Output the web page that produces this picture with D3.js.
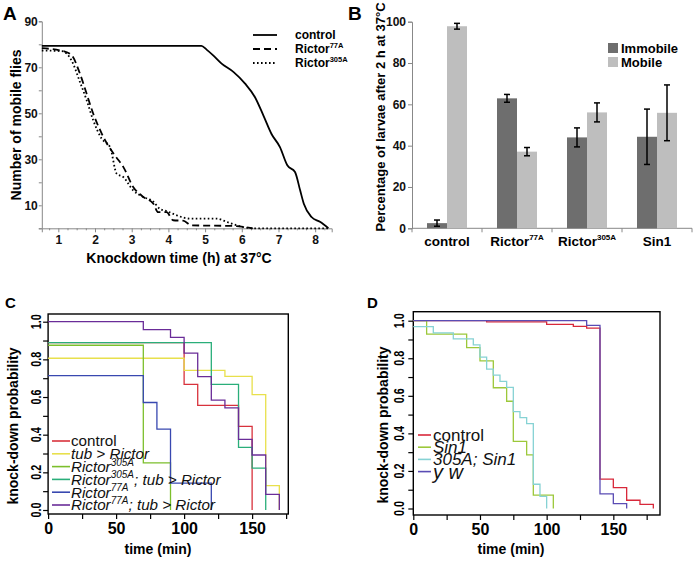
<!DOCTYPE html>
<html><head><meta charset="utf-8">
<script src="https://cdn.jsdelivr.net/npm/d3@7"></script>
<style>body{margin:0;background:#fff}svg{display:block}text{font-family:"Liberation Sans",Arial,Helvetica,sans-serif}</style>
</head><body><svg id="c" width="696" height="562"></svg>
<script>
// ---------- Panel A data ----------
const aControlH = [0.55,4.9,5.04,5.22,5.45,5.77,6.09,6.36,6.59,6.81,7.04,7.24,7.45,7.59,7.69,7.9,8.13,8.36];
const aControlN = [79.3,79.3,77.7,75.2,71.6,68,62.9,57,49,41,35.3,27.4,24.5,16.5,10.7,4.9,2.8,0];
const aR77H = [0.55,1.14,1.36,1.59,1.77,1.95,2.18,2.32,2.55,2.77,3.04,3.32,3.59,3.72,3.95,4.13,4.4,4.63,5.77,6.3];
const aR77N = [78.3,77,75.3,67.2,58.6,49.9,41.3,37,31.5,26.7,18,13.6,10.7,7,7,3.5,3.3,1.3,1,0];
const aR305H = [0.55,1.1,1.36,1.59,1.77,1.95,2.18,2.41,2.59,2.77,3.04,3.32,3.59,3.77,3.95,4.23,4.59,5.32,5.59,5.86,6.31,8.35];
const aR305N = [77.3,77,73,63.6,55.8,47,39,35.3,23.8,22.3,16.5,13.6,11.6,8.4,7.5,5.6,4.2,4.2,2.8,1.3,0,0];
const aXTicks = [1,2,3,4,5,6,7,8];
const aYTicks = [10,30,50,70,90];
const aLegend = [["control",""],["Rictor","77A"],["Rictor","305A"]];

// ---------- Panel B data ----------
const bCatBase = ["control","Rictor","Rictor","Sin1"];
const bCatSup = ["","77A","305A",""];
const bImmobile = [2.5,62.9,44,44.3];
const bImmobileErr = [1.5,1.9,4.6,13.4];
const bMobile = [97.8,37.1,56.1,55.9];
const bMobileErr = [1.4,2,4.6,13.5];
const bYTicks = [0,20,40,60,80,100];
const bLegend = ["Immobile","Mobile"];

// ---------- Panel C data (Kaplan-Meier steps) ----------
const cTimes = [
  [0,100,110,140,150],
  [0,100,130,150,160,170],
  [0,70,90],
  [0,120,140,150,160],
  [0,70,80,90,120],
  [0,70,90,100,110,120,130,140,150,160,170]
];
const cSurv = [
  [0.889,0.667,0.556,0.444,0],
  [0.806,0.742,0.71,0.613,0.129,0],
  [0.875,0.25,0],
  [0.889,0.667,0.333,0.222,0],
  [0.714,0.571,0.429,0.143,0],
  [1,0.958,0.917,0.833,0.708,0.583,0.542,0.375,0.292,0.083,0]
];
const cLegMain = ["control","tub > Rictor","Rictor","Rictor","Rictor","Rictor"];
const cLegSup = ["","","305A","305A","77A","77A"];
const cLegTail = ["","","","; tub > Rictor","","; tub > Rictor"];
const cColors = ["#d8323c","#e8e04c","#7cbf2c","#2aae7a","#3848b0","#6a2c98"];

// ---------- Panel D data ----------
const dTimes = [
  [0,55,100,120,130,140,150,160,170,180],
  [0,10,40,50,60,70,75,85,90,105],
  [0,15,30,45,50,55,60,65,70,75,80,85,90,95,100],
  [0,130,140,150,160]
];
const dSurv = [
  [1,0.994,0.98,0.97,0.96,0.156,0.111,0.044,0.022,0],
  [1,0.929,0.857,0.786,0.643,0.571,0.357,0.286,0.071,0],
  [0.968,0.935,0.903,0.871,0.806,0.742,0.71,0.677,0.645,0.516,0.484,0.452,0.129,0.065,0],
  [1,0.975,0.078,0.026,0]
];
const dLegend = ["control","Sin1","305A; Sin1","y w"];
const dColors = ["#d8283a","#9cc83a","#86d2d4","#5a4cb4"];
const kmXTicks = [0,50,100,150];
const kmXMinor = [25,75,125,175];
const kmYTicks = [0,0.2,0.4,0.6,0.8,1.0];
const kmYMinor = [0.1,0.3,0.5,0.7,0.9];

const svg = d3.select("#c");
const F = '"Liberation Sans",Arial,Helvetica,sans-serif';
function clean(g){ g.attr("font-family",F).attr("font-size",null); }
function richText(g, x, y, fs, main, sup, tail, supFs, anchor){
  const t = g.append("text").attr("x",x).attr("y",y+fs*0.35).attr("font-size",fs);
  if(anchor) t.attr("text-anchor",anchor);
  t.append("tspan").text(main);
  if(sup){
    const rise = fs*0.42;
    t.append("tspan").attr("font-size",supFs).attr("dy",-rise).text(sup);
    if(tail) t.append("tspan").attr("dy",rise).text(tail);
  }
  return t;
}

// ================= Panel A =================
const xA = d3.scaleLinear().domain([0.55,8.45]).range([41.8,331.7]);
const yA = d3.scaleLinear().domain([0,90]).range([228.3,21.3]);
const gA = svg.append("g");
gA.append("text").attr("x",3).attr("y",20).attr("font-size",19).attr("font-weight","bold").text("A");
const ayx = gA.append("g").attr("transform",`translate(${xA(0.55)},0)`)
  .call(d3.axisLeft(yA).tickValues(d3.range(0,91,10)).tickSize(3).tickFormat(d=>aYTicks.includes(d)?d:""));
ayx.select(".domain").attr("stroke","#888");
ayx.selectAll(".tick line").attr("stroke","#888");
ayx.selectAll(".tick text").attr("font-size",12).attr("font-weight","bold").attr("x",-4).attr("fill","#111");
clean(ayx);
const axx = gA.append("g").attr("transform",`translate(0,${yA(0)})`)
  .call(d3.axisBottom(xA).tickValues(aXTicks).tickSize(4));
axx.select(".domain").attr("stroke","#888");
axx.selectAll(".tick line").attr("stroke","#888");
axx.selectAll(".tick text").attr("font-size",12).attr("font-weight","bold").attr("y",7).attr("fill","#111");
clean(axx);
const axm = gA.append("g").attr("transform",`translate(0,${yA(0)})`)
  .call(d3.axisBottom(xA).tickValues(d3.range(0.75,8.45,0.25).filter(v=>Math.abs(v-Math.round(v))>0.01)).tickSize(2).tickFormat(""));
axm.select(".domain").remove();
axm.selectAll(".tick line").attr("stroke","#888");
gA.append("text").attr("transform","translate(16,125) rotate(-90)").attr("text-anchor","middle")
  .attr("dominant-baseline","central").attr("font-size",14).attr("font-weight","bold").text("Number of mobile flies");
gA.append("text").attr("x",179).attr("y",258).attr("text-anchor","middle").attr("dominant-baseline","central")
  .attr("font-size",14).attr("font-weight","bold").text("Knockdown time (h) at 37°C");
const lineA = d3.line().x(d=>xA(d[0])).y(d=>yA(d[1])).curve(d3.curveMonotoneX);
const aSeries = [
  {h:aControlH,n:aControlN,dash:null},
  {h:aR77H,n:aR77N,dash:"7,4"},
  {h:aR305H,n:aR305N,dash:"1.6,2.4"}
];
aSeries.forEach(s=>{
  gA.append("path").attr("d",lineA(s.h.map((h,i)=>[h,s.n[i]]))).attr("fill","none")
    .attr("stroke","#000").attr("stroke-width",1.8).attr("stroke-dasharray",s.dash);
});
aLegend.forEach((L,i)=>{
  const y = 35 + i*14;
  gA.append("line").attr("x1",253).attr("x2",277).attr("y1",y).attr("y2",y).attr("stroke","#000")
    .attr("stroke-width",1.8).attr("stroke-dasharray",aSeries[i].dash);
  richText(gA,295,y,12,L[0],L[1],"",7.5).attr("font-weight","bold");
});

// ================= Panel B =================
const xB = d3.scaleBand().domain(d3.range(bCatBase.length)).range([412,692]);
const yB = d3.scaleLinear().domain([0,100]).range([228.3,21.7]);
const gB = svg.append("g");
gB.append("text").attr("x",348).attr("y",20).attr("font-size",19).attr("font-weight","bold").text("B");
const byx = gB.append("g").attr("transform","translate(412,0)")
  .call(d3.axisLeft(yB).tickValues(bYTicks).tickSize(4));
byx.select(".domain").attr("stroke","#888");
byx.selectAll(".tick line").attr("stroke","#888");
byx.selectAll(".tick text").attr("font-size",12).attr("font-weight","bold").attr("x",-6).attr("fill","#111");
clean(byx);
gB.append("line").attr("x1",412).attr("x2",692).attr("y1",yB(0)).attr("y2",yB(0)).attr("stroke","#888");
d3.range(bCatBase.length+1).forEach(i=>{
  const x = 412 + i*xB.step();
  gB.append("line").attr("x1",x).attr("x2",x).attr("y1",yB(0)).attr("y2",yB(0)+4).attr("stroke","#888");
});
const barW = 20;
const bSeries = [
  {v:bImmobile,e:bImmobileErr,c:"#6e6e6e",off:-barW},
  {v:bMobile,e:bMobileErr,c:"#bebebe",off:0}
];
bSeries.forEach(s=>{
  s.v.forEach((v,i)=>{
    const cx = xB(i)+xB.bandwidth()/2+s.off;
    gB.append("rect").attr("x",cx).attr("width",barW).attr("y",yB(v)).attr("height",yB(0)-yB(v)).attr("fill",s.c);
    const mx = cx+barW/2;
    gB.append("line").attr("x1",mx).attr("x2",mx).attr("y1",yB(v-s.e[i])).attr("y2",yB(v+s.e[i])).attr("stroke","#000").attr("stroke-width",1.5);
    [v-s.e[i],v+s.e[i]].forEach(w=>gB.append("line").attr("x1",mx-3).attr("x2",mx+3).attr("y1",yB(w)).attr("y2",yB(w)).attr("stroke","#000").attr("stroke-width",1.5));
  });
});
bCatBase.forEach((c,i)=>{
  richText(gB,xB(i)+xB.bandwidth()/2,241,13.5,c,bCatSup[i],"",8,"middle").attr("font-weight","bold");
});
gB.append("text").attr("transform","translate(380,117) rotate(-90)").attr("text-anchor","middle")
  .attr("dominant-baseline","central").attr("font-size",13).attr("font-weight","bold").text("Percentage of larvae after 2 h at 37°C");
bLegend.forEach((L,i)=>{
  const y = 48 + i*14;
  gB.append("rect").attr("x",608).attr("y",y-5).attr("width",10).attr("height",10).attr("fill",bSeries[i].c);
  gB.append("text").attr("x",621).attr("y",y).attr("dominant-baseline","central").attr("font-size",13).attr("font-weight","bold").text(L);
});

// ================= KM panels =================
function kmPanel(g, x, y, box, letter, letterPos, yTitle, xTitle, yLabX){
  g.append("text").attr("x",letterPos[0]).attr("y",letterPos[1]).attr("font-size",15).attr("font-weight","bold").text(letter);
  g.append("rect").attr("x",box[0]).attr("y",box[1]).attr("width",box[2]-box[0]).attr("height",box[3]-box[1])
    .attr("fill","none").attr("stroke","#000").attr("stroke-width",1.4);
  const gx = g.append("g").attr("transform",`translate(0,${box[3]})`)
    .call(d3.axisBottom(x).tickValues(kmXTicks.concat(kmXMinor.filter(v=>x(v)<=box[2]+1))).tickSize(5).tickFormat(d=>kmXTicks.includes(d)?d:""));
  gx.select(".domain").remove();
  gx.selectAll(".tick line").attr("stroke","#000").attr("stroke-width",1.2);
  gx.selectAll(".tick text").attr("font-size",16).attr("font-weight","bold").attr("y",9).attr("fill","#000");
  clean(gx);
  const gy = g.append("g").attr("transform",`translate(${box[0]},0)`)
    .call(d3.axisLeft(y).tickValues(kmYTicks.concat(kmYMinor)).tickSize(5).tickFormat(""));
  gy.select(".domain").remove();
  gy.selectAll(".tick line").attr("stroke","#000").attr("stroke-width",1.2);
  kmYTicks.forEach(v=>{
    g.append("text").attr("transform",`translate(${yLabX},${y(v)}) rotate(-90)`).attr("text-anchor","middle")
      .attr("dominant-baseline","central").attr("font-size",15).attr("font-weight","bold")
      .attr("textLength",15).attr("lengthAdjust","spacingAndGlyphs").text(d3.format(".1f")(v));
  });
  g.append("text").attr("transform",`translate(${yTitle[0]},${yTitle[1]}) rotate(-90)`).attr("text-anchor","middle")
    .attr("dominant-baseline","central").attr("font-size",14).attr("font-weight","bold").text("knock-down probability");
  g.append("text").attr("x",xTitle[0]).attr("y",xTitle[1]).attr("text-anchor","middle")
    .attr("dominant-baseline","central").attr("font-size",14).attr("font-weight","bold").text("time (min)");
}
function kmLines(g, x, y, times, surv, colors){
  const ln = d3.line().x(d=>x(d[0])).y(d=>y(d[1])).curve(d3.curveStepAfter);
  times.forEach((t,k)=>{
    g.append("path").attr("d",ln(t.map((tt,i)=>[tt,surv[k][i]]))).attr("fill","none")
      .attr("stroke",colors[k]).attr("stroke-width",1.3);
  });
}

// Panel C
const xC = d3.scaleLinear().domain([0,176.6]).range([48.1,288.3]);
const yC = d3.scaleLinear().domain([0,1]).range([510,321.7]);
const gC = svg.append("g");
kmPanel(gC, xC, yC, [48.1,314,288.3,514], "C", [5,308], [13,426], [158,549], 35);
kmLines(gC, xC, yC, cTimes, cSurv, cColors);
cLegMain.forEach((m,i)=>{
  const y = 441 + i*12.8;
  gC.append("line").attr("x1",52).attr("x2",70).attr("y1",y).attr("y2",y).attr("stroke",cColors[i]).attr("stroke-width",1.6);
  richText(gC,71,y,15.2,m,cLegSup[i],cLegTail[i],10).attr("font-style",i===0?"normal":"italic").attr("fill","#111");
});

// Panel D
const xD = d3.scaleLinear().domain([0,185]).range([413.3,660]);
const yD = d3.scaleLinear().domain([0,1]).range([508.5,320.7]);
const gD = svg.append("g");
kmPanel(gD, xD, yD, [413.3,311.7,660,515], "D", [367,308], [383,425], [511,549], 398);
kmLines(gD, xD, yD, dTimes, dSurv, dColors);
dLegend.forEach((L,i)=>{
  const y = 435 + i*12.2;
  gD.append("line").attr("x1",418).attr("x2",431).attr("y1",y).attr("y2",y).attr("stroke",dColors[i]).attr("stroke-width",1.6);
  richText(gD,433,y,i===3?20:17,L,"","",0).attr("font-style",i===0?"normal":"italic").attr("fill","#111");
});
</script></body></html>
